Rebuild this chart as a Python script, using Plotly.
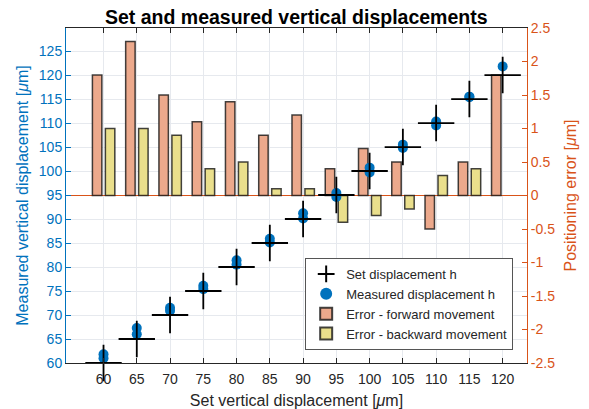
import plotly.graph_objects as go

# ---- data ----
set_x = [60, 65, 70, 75, 80, 85, 90, 95, 100, 105, 110, 115, 120]
set_h = [60, 65, 70, 75, 80, 85, 90, 95, 100, 105, 110, 115, 120]

err_forward = [1.8, 2.3, 1.5, 1.1, 1.4, 0.9, 1.2, 0.4, 0.7, 0.5, -0.5, 0.5, 1.8]
err_backward = [1.0, 1.0, 0.9, 0.4, 0.5, 0.1, 0.1, -0.4, -0.3, -0.2, 0.3, 0.4, None]

meas_x = [60, 65, 70, 75, 80, 85, 90, 95, 100, 105, 110, 115, 120,
          60, 65, 70, 75, 80, 85, 90, 95, 100, 105, 110, 115]
meas_h = [61.8, 67.3, 71.5, 76.1, 81.4, 85.9, 91.2, 95.4, 100.7, 105.5, 109.5, 115.5, 121.8,
          61.0, 66.0, 70.9, 75.4, 80.5, 85.1, 90.1, 94.6, 99.7, 104.8, 110.3, 115.4]

left_ticks = [60, 65, 70, 75, 80, 85, 90, 95, 100, 105, 110, 115, 120, 125]
right_ticks = [-2.5, -2, -1.5, -1, -0.5, 0, 0.5, 1, 1.5, 2, 2.5]
right_ticklabels = ["-2.5", "-2", "-1.5", "-1", "-0.5", "0", "0.5", "1", "1.5", "2", "2.5"]

BLUE = "#0072BD"
ORANGE = "#D95319"
DARK = "#262626"
GRID = "#E6E9EE"
FONT = "Liberation Sans, Arial, sans-serif"

fig = go.Figure()

fig.add_trace(go.Scatter(
    x=meas_x, y=meas_h, mode="markers", name="Measured displacement h",
    marker=dict(symbol="circle", size=10, color=BLUE),
    yaxis="y2", cliponaxis=False, legendrank=2))

fig.add_trace(go.Scatter(
    x=set_x, y=set_h, mode="markers", name="Set displacement h",
    marker=dict(symbol="cross-thin", size=26, color="black",
                line=dict(color="black", width=1.8)),
    yaxis="y2", cliponaxis=False, legendrank=1))

fig.add_trace(go.Bar(
    x=set_x, y=err_forward, name="Error - forward movement",
    width=1.42, offset=-1.67,
    marker=dict(color="#ECA98C", line=dict(color="rgba(20,20,20,0.8)", width=1.5)),
    yaxis="y", legendrank=3))

fig.add_trace(go.Bar(
    x=set_x, y=err_backward, name="Error - backward movement",
    width=1.42, offset=0.28,
    marker=dict(color="#EADF8C", line=dict(color="rgba(20,20,20,0.8)", width=1.5)),
    yaxis="y", legendrank=4))

fig.update_layout(
    width=589, height=409,
    margin=dict(l=66, r=62, t=28, b=46),
    paper_bgcolor="white", plot_bgcolor="white",
    font=dict(family=FONT, size=14, color=DARK),
    barmode="overlay",
    title=dict(text="<b>Set and measured vertical displacements</b>",
               x=0.503, xanchor="center", y=0.958, yanchor="middle", yref="container",
               font=dict(size=19.5, color="black")),
    xaxis=dict(range=[54.36, 123.66], tickvals=set_x, ticks="inside", ticklen=5,
               tickcolor=DARK, showline=True, linecolor=DARK, linewidth=1, mirror="ticks",
               showgrid=True, gridcolor=GRID, zeroline=False, automargin=False,
               ticklabelstandoff=3,
               tickfont=dict(size=14, color=DARK),
               title=dict(text="Set vertical displacement [<i>μ</i>m]", standoff=10,
                          font=dict(size=16, color=DARK))),
    yaxis=dict(side="right", range=[-2.5, 2.5], tickvals=right_ticks, ticktext=right_ticklabels,
               ticks="inside", ticklen=5, tickcolor=ORANGE, showline=True, linecolor=ORANGE,
               showgrid=False, zeroline=True, zerolinecolor=ORANGE, zerolinewidth=1,
               automargin=False,
               tickfont=dict(size=14, color=ORANGE),
               title=dict(text="Positioning error [<i>μ</i>m]", standoff=10,
                          font=dict(size=16, color=ORANGE))),
    yaxis2=dict(overlaying="y", side="left", range=[60, 129.8], tickvals=left_ticks,
                ticks="inside", ticklen=5, tickcolor=BLUE, showline=True, linecolor=BLUE,
                showgrid=True, gridcolor=GRID, zeroline=False, automargin=False,
                tickfont=dict(size=14, color=BLUE),
                title=dict(text="Measured vertical displacement [<i>μ</i>m]", standoff=6,
                           font=dict(size=16, color=BLUE))),
    legend=dict(x=0.970, y=0.039, xanchor="right", yanchor="bottom",
                bgcolor="white", bordercolor="#555", borderwidth=1,
                font=dict(size=13, color=DARK), tracegroupgap=0,
                itemsizing="constant"),
    showlegend=True,
)

fig.write_html("out.html")
